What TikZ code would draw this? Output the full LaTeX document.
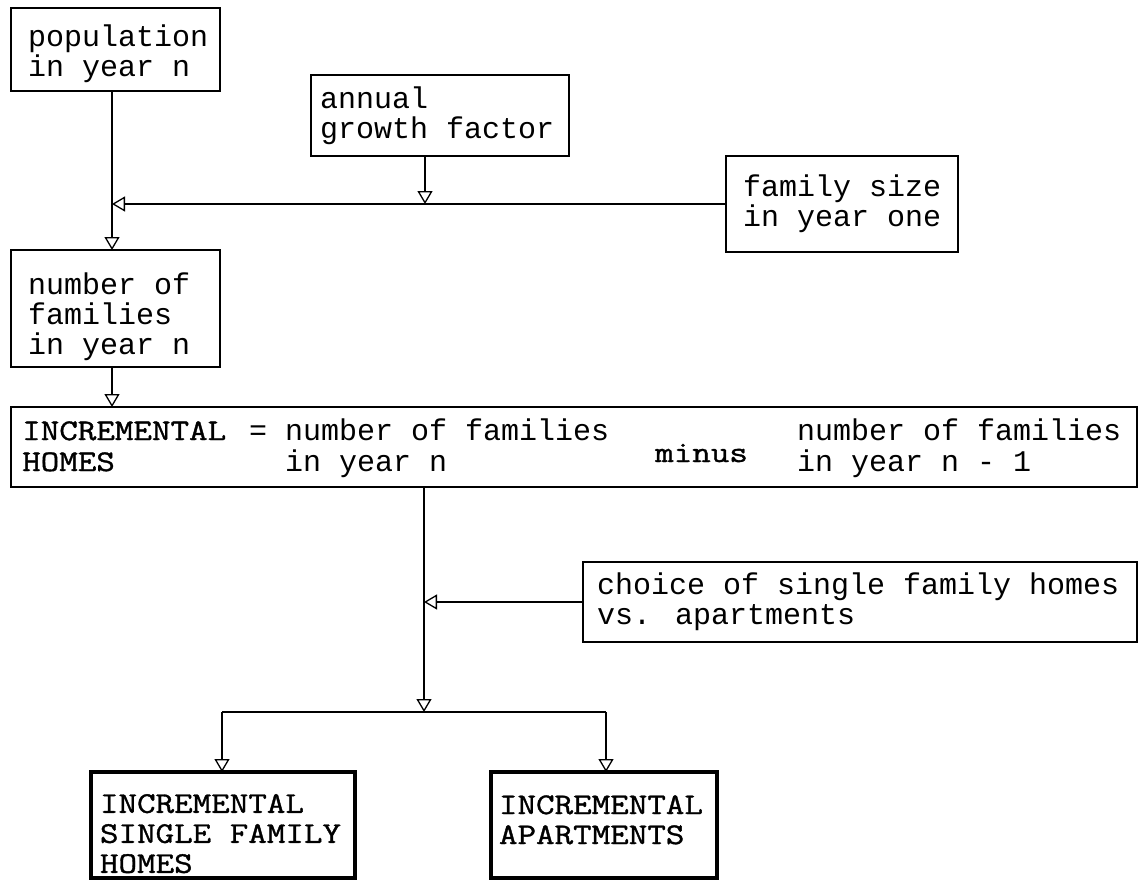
\documentclass[tikz,border=0pt]{standalone}
\usepackage{fontspec}
\newfontfamily\tw{Liberation Mono}
\newfontfamily\capsf[FakeStretch=1.2,FakeBold=1.2]{Latin Modern Mono}
\newcommand\twfont{\tw\fontsize{30}{30}\selectfont}
\newcommand\capfont{\capsf\fontsize{30}{30}\selectfont}
\newcommand\wl[2]{\makebox[#1][l]{#2}}
\usetikzlibrary{arrows.meta}
\begin{document}
\begin{tikzpicture}[x=1pt,y=-1pt,
  box/.style={draw, line width=1.7pt, anchor=north west, align=left, inner ysep=0pt, outer sep=0pt, font=\twfont},
  bigbox/.style={box, line width=3.5pt, font=\capfont},
  conn/.style={line width=1.3pt},
  arr/.style={conn, -{Triangle[open, length=13pt, width=15pt, line width=1.3pt]}},
  txt/.style={anchor=base west, inner sep=0pt, font=\twfont},
  captxt/.style={txt, font=\capfont}]
\useasboundingbox (0,0) rectangle (1139,881);
% boxes
\node[box, minimum width=209pt, minimum height=83pt, inner xsep=17pt] (pop) at (11,8) {\wl{175pt}{\rule{0pt}{30pt}population}\\in year n};
\node[box, minimum width=258pt, minimum height=81pt, inner xsep=9pt] (gr) at (311,75) {\wl{240pt}{annual}\\growth factor};
\node[box, minimum width=230pt, minimum height=96pt, inner xsep=17pt] (fs) at (726,156) {\wl{196pt}{family size}\\in year one};
\node[box, minimum width=209pt, minimum height=117pt, inner xsep=17pt] (fam) at (11,250) {\wl{175pt}{\rule{0pt}{38pt}number of}\\families\\in year n};
\node[box, minimum width=1126pt, minimum height=80pt, inner sep=0pt] (inc) at (11,407) {};
\node[box, minimum width=554pt, minimum height=80pt, inner xsep=14pt] (ch) at (583,562) {\wl{526pt}{choice of single family homes}\\vs. apartments};
\node[bigbox, minimum width=264pt, minimum height=106pt, inner xsep=9pt] (sf) at (91,772) {\wl{246pt}{\rule{0pt}{36pt}INCREMENTAL}\\SINGLE FAMILY\\HOMES};
\node[bigbox, minimum width=226pt, minimum height=106pt, inner xsep=8pt] (apt) at (491,772) {\wl{210pt}{\rule{0pt}{38pt}INCREMENTAL}\\APARTMENTS\\\phantom{H}};
% texts inside the INCREMENTAL HOMES box
\node[captxt] (i1) at (22,440) {INCREMENTAL};
\node[captxt] (i2) at (22,471) {HOMES};
\node[txt] (eq) at (249,440) {=};
\node[txt] (a1) at (285,440) {number of families};
\node[txt] (a2) at (285,471) {in year n};
\node[captxt] (mi) at (655,462) {minus};
\node[txt] (b1) at (797,440) {number of families};
\node[txt] (b2) at (797,471) {in year n - 1};
% junction coordinates
\coordinate (cx) at (112,0);
\coordinate (jx) at (425,0);
\coordinate (split) at (424,712);
\coordinate (lx) at (222,712);
\coordinate (rx) at (606,712);
% connectors
\draw[arr] (pop.south -| cx) -- (fam.north -| cx);
\draw[arr] (fs.west) -- (fs.west -| cx);
\draw[arr] (gr.south -| jx) -- (fs.west -| jx);
\draw[arr] (fam.south -| cx) -- (inc.north -| cx);
\draw[arr] (inc.south -| split) -- (split);
\draw[arr] (ch.west) -- (ch.west -| split);
\draw[conn] (lx) -- (rx);
\draw[arr] (lx) -- (sf.north -| lx);
\draw[arr] (rx) -- (apt.north -| rx);
\end{tikzpicture}
\end{document}
